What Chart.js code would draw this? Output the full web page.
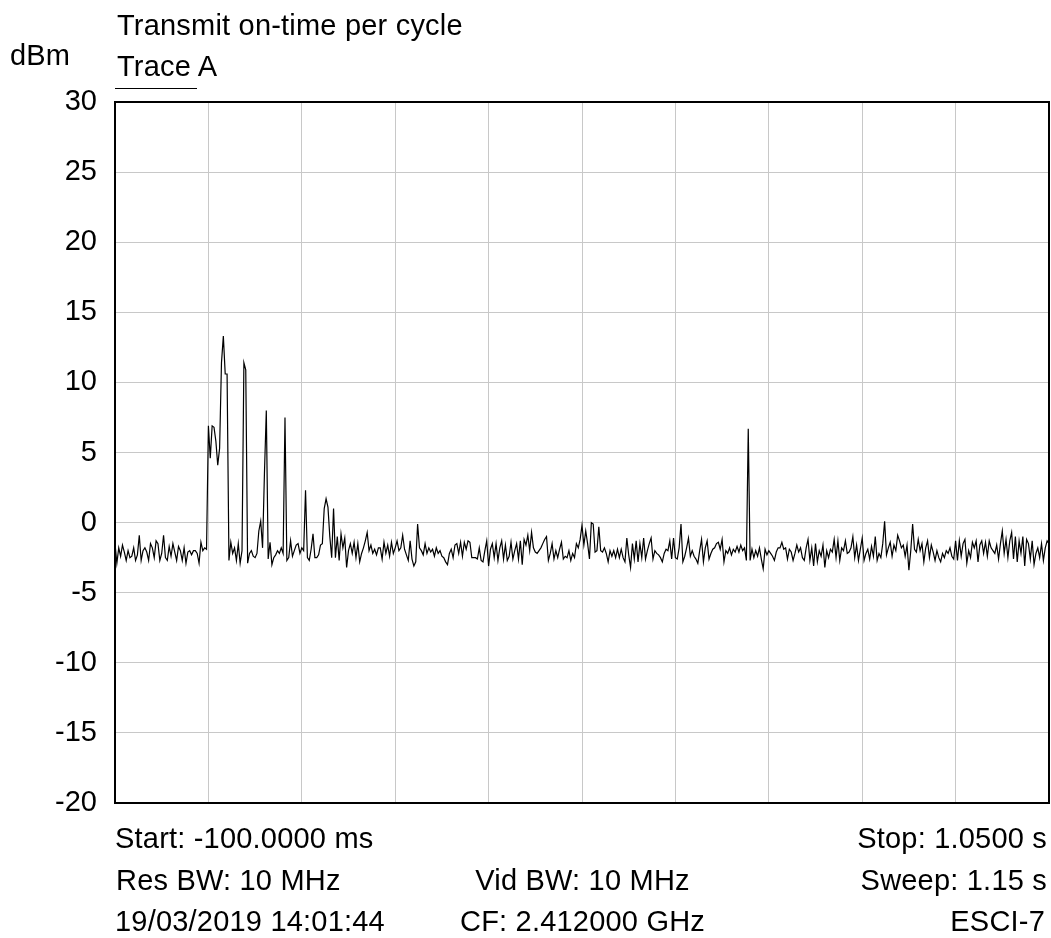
<!DOCTYPE html>
<html>
<head>
<title>Transmit on-time per cycle</title>
<script src="https://cdn.jsdelivr.net/npm/chart.js"></script>
<style>
body { margin: 0; background: #fff; }
#wrap { position: relative; width: 1051px; height: 938px; }
canvas { position: absolute; left: 0; top: 0; }
.t { position: absolute; font-family: "Liberation Sans", Arial, sans-serif; font-size: 29px; line-height: 29px; letter-spacing: 0.2px; color: #000; white-space: nowrap; }
.r { text-align: right; }
.c { transform: translateX(-50%); }
#uline { position: absolute; left: 115px; top: 88px; width: 82px; border-top: 1px solid #000; }
</style>
</head>
<body>
<div id="wrap">
<canvas id="traceChart" width="1051" height="938"></canvas>
<div class="t" style="left:117px;top:10.5px">Transmit on-time per cycle</div>
<div class="t" style="left:10px;top:40.5px">dBm</div>
<div class="t" style="left:117px;top:52px">Trace A</div>
<div id="uline"></div>
<div class="t" style="left:115px;top:823.8px">Start: -100.0000 ms</div>
<div class="t r" style="right:4px;top:823.8px">Stop: 1.0500 s</div>
<div class="t" style="left:116px;top:865.5px">Res BW: 10 MHz</div>
<div class="t c" style="left:582.5px;top:865.5px">Vid BW: 10 MHz</div>
<div class="t r" style="right:4px;top:865.5px">Sweep: 1.15 s</div>
<div class="t" style="left:115px;top:907.2px">19/03/2019 14:01:44</div>
<div class="t c" style="left:582.5px;top:907.2px">CF: 2.412000 GHz</div>
<div class="t r" style="right:6px;top:907.2px">ESCI-7</div>
</div>
<script>
// sweep settings (ms)
const sweepStart = -100;
const sweepStop = 1050;
const divisionMs = 115;

// level axis (dBm)
const levelMin = -20;
const levelMax = 30;
const levelStep = 5;

// trace A, 501 sweep points, dBm
const traceA = [
  -1.5, -2.9, -1.8, -2.4, -1.6, -2.1, -2.7, -2.0, -2.5, -2.4,
  -1.8, -2.7, -2.3, -0.9, -2.7, -2.0, -1.8, -2.1, -2.7, -1.5,
  -1.8, -2.5, -1.3, -1.5, -2.7, -2.2, -0.9, -2.5, -2.7, -1.7,
  -2.4, -1.5, -2.1, -2.7, -1.7, -2.0, -2.7, -1.8, -2.9, -2.1,
  -2.0, -2.3, -2.0, -2.0, -2.2, -2.9, -1.4, -2.0, -1.8, -1.9,
  6.9, 4.6, 6.9, 6.8, 5.8, 4.1, 5.3, 11.4, 13.3, 10.6,
  10.6, -2.7, -1.4, -2.2, -1.8, -2.7, -1.5, -2.9, -2.0, 11.4,
  10.9, -2.9, -2.2, -2.0, -2.4, -2.5, -2.2, -0.6, 0.1, -1.8,
  3.5, 8.0, -2.6, -1.4, -3.0, -2.5, -2.3, -2.0, -2.2, -1.8,
  -2.2, 7.5, -2.7, -2.5, -1.3, -2.4, -2.0, -1.6, -1.5, -2.2,
  -1.8, -2.0, 2.3, -2.5, -2.7, -1.9, -0.8, -2.5, -2.5, -2.3,
  -1.6, -1.5, 1.0, 1.7, 1.1, -1.0, -2.5, 1.0, -2.5, -1.0,
  -2.7, -0.8, -1.8, -1.1, -3.2, -2.0, -1.5, -2.2, -1.4, -2.5,
  -1.5, -2.8, -2.2, -1.8, -1.3, -0.7, -2.0, -1.6, -2.2, -1.9,
  -2.3, -1.8, -1.8, -2.6, -1.4, -2.2, -1.6, -2.4, -1.4, -2.2,
  -1.8, -1.3, -2.0, -1.8, -0.9, -1.9, -2.3, -2.7, -1.3, -2.6,
  -3.1, -2.8, -0.1, -1.8, -2.0, -2.3, -1.5, -2.2, -1.8, -2.1,
  -1.9, -2.4, -1.8, -2.2, -2.0, -2.4, -2.5, -2.8, -3.0, -2.2,
  -1.9, -2.5, -1.6, -1.5, -2.2, -1.4, -2.4, -1.4, -1.9, -1.3,
  -1.4, -2.5, -2.5, -2.5, -2.6, -1.8, -2.7, -2.8, -2.0, -1.3,
  -3.1, -1.9, -1.5, -2.5, -1.5, -2.7, -1.8, -1.3, -2.6, -1.6,
  -2.7, -2.4, -1.4, -2.6, -2.0, -1.5, -2.6, -1.3, -3.0, -1.2,
  -1.6, -0.9, -2.0, -0.7, -1.8, -2.1, -2.2, -2.0, -1.8, -1.5,
  -1.2, -1.0, -2.7, -2.2, -1.5, -2.6, -2.0, -2.5, -1.9, -1.4,
  -2.6, -2.4, -2.5, -2.0, -2.7, -2.2, -2.5, -1.5, -1.8, -1.2,
  -0.2, -1.6, -0.6, -1.5, -2.6, 0.0, -0.1, -2.1, -2.0, -0.3,
  -2.0, -2.1, -1.8, -2.2, -2.8, -2.0, -2.4, -2.0, -2.5, -1.9,
  -2.5, -1.9, -2.5, -2.8, -1.1, -2.3, -3.2, -1.5, -2.6, -1.3,
  -2.8, -1.5, -2.5, -1.1, -2.6, -2.0, -1.5, -1.1, -2.6, -2.0,
  -2.2, -2.3, -2.5, -2.8, -2.2, -1.9, -2.0, -1.3, -2.6, -1.1,
  -2.5, -2.6, -1.8, -0.1, -2.8, -2.4, -1.8, -1.1, -2.4, -2.0,
  -2.4, -2.6, -2.9, -2.0, -1.2, -2.8, -1.8, -1.3, -2.6, -2.2,
  -1.9, -1.8, -1.5, -1.4, -1.9, -1.2, -2.8, -2.0, -2.2, -1.8,
  -2.3, -1.9, -2.1, -1.7, -2.1, -1.6, -2.0, -1.8, -2.7, 6.7,
  -2.7, -1.9, -2.5, -2.0, -2.4, -1.8, -2.6, -3.3, -1.9, -2.3,
  -2.0, -2.2, -2.4, -2.7, -2.1, -1.8, -1.8, -1.4, -1.9, -1.8,
  -2.6, -1.9, -2.1, -2.7, -2.2, -1.6, -2.1, -1.8, -2.5, -2.7,
  -1.8, -1.2, -2.7, -1.8, -3.1, -1.5, -2.8, -2.0, -2.4, -1.6,
  -3.2, -2.0, -2.5, -1.9, -2.1, -1.2, -2.5, -1.3, -2.7, -1.8,
  -2.0, -1.3, -2.2, -2.1, -1.8, -1.0, -2.5, -1.6, -2.7, -1.9,
  -1.1, -2.7, -2.2, -1.9, -2.6, -1.7, -2.4, -1.0, -2.7, -2.2,
  -2.5, -1.5, 0.1, -2.3, -1.8, -1.4, -2.4, -1.6, -2.0, -0.9,
  -1.3, -1.8, -1.6, -2.4, -1.6, -3.4, -2.0, -0.1, -1.9, -2.1,
  -1.2, -2.0, -1.5, -2.8, -1.8, -1.3, -2.5, -1.6, -2.1, -2.7,
  -2.0, -2.5, -2.8, -2.2, -2.5, -2.0, -2.2, -1.8, -2.4, -2.6,
  -1.3, -2.7, -1.3, -2.4, -1.5, -1.2, -2.9, -2.0, -2.5, -1.4,
  -1.8, -1.3, -2.8, -1.6, -1.3, -2.2, -1.4, -2.4, -1.3, -1.8,
  -2.0, -2.2, -1.6, -2.6, -1.5, -0.6, -2.2, -1.2, -2.5, -1.3,
  -0.7, -2.6, -1.0, -2.8, -1.3, -2.2, -1.0, -3.1, -1.2, -1.5,
  -2.6, -1.3, -3.0, -2.2, -1.8, -2.5, -1.5, -2.7, -1.8, -1.3,
  -1.5
];

// sweep points spread evenly from start to stop
const stepMs = (sweepStop - sweepStart) / (traceA.length - 1);
const points = traceA.map((v, i) => ({ x: sweepStart + i * stepMs, y: v }));

const frame = {
  id: 'frame',
  afterDraw(chart) {
    const a = chart.chartArea;
    const ctx = chart.ctx;
    ctx.save();
    ctx.strokeStyle = '#000';
    ctx.lineWidth = 2;
    ctx.strokeRect(a.left, a.top, a.right - a.left, a.bottom - a.top);
    ctx.restore();
  }
};

const ctx = document.getElementById('traceChart').getContext('2d');
new Chart(ctx, {
  type: 'line',
  data: {
    datasets: [{
      label: 'Trace A',
      data: points,
      borderColor: '#000',
      borderWidth: 1.2,
      pointRadius: 0,
      tension: 0,
      fill: false
    }]
  },
  options: {
    responsive: false,
    animation: false,
    layout: { padding: { left: 0, right: 2, top: 102, bottom: 135 } },
    plugins: { legend: { display: false }, tooltip: { enabled: false } },
    scales: {
      x: {
        type: 'linear',
        min: sweepStart,
        max: sweepStop,
        ticks: { display: false, stepSize: divisionMs },
        grid: { color: '#c8c8c8', lineWidth: 1, drawTicks: false },
        border: { display: false },
        afterFit(scale) { scale.height = 0; }
      },
      y: {
        min: levelMin,
        max: levelMax,
        ticks: {
          stepSize: levelStep,
          padding: 18,
          color: '#000',
          font: { family: '"Liberation Sans", Arial, sans-serif', size: 29 }
        },
        grid: { color: '#c8c8c8', lineWidth: 1, drawTicks: false },
        border: { display: false },
        afterFit(scale) { scale.width = 115; }
      }
    }
  },
  plugins: [frame]
});
</script>
</body>
</html>
